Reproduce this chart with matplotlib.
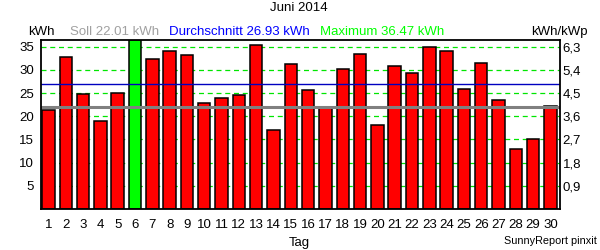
import matplotlib
matplotlib.use("Agg")
import matplotlib.pyplot as plt

plt.rcParams['font.family'] = ['Liberation Sans', 'DejaVu Sans']

days = list(range(1, 31))
kwh = [21.4, 32.8, 24.9, 18.9, 25.1, 36.47, 32.4, 34.1, 33.2, 22.9,
       24.0, 24.6, 35.4, 17.0, 31.3, 25.7, 21.8, 30.2, 33.4, 18.2,
       30.9, 29.4, 34.9, 34.1, 25.9, 31.5, 23.6, 12.9, 15.2, 22.3]
soll = 22.01
avg = 26.93
maximum = 36.47
grid_vals = [5, 10, 15, 20, 25, 30, 35]
right_labels = ['0,9', '1,8', '2,7', '3,6', '4,5', '5,4', '6,3']
title = 'Juni 2014'

fs = 9.5
fig = plt.figure(figsize=(6, 2.5), dpi=100)
ax = fig.add_axes([41/600, 1 - 209/250, (560-41)/600, (209-40)/250])

colors = ['#00ff00' if v == maximum else '#ff0000' for v in kwh]
ax.bar(days, kwh, width=0.72, color=colors, edgecolor='black', linewidth=1.1, zorder=2)

for g in grid_vals:
    ax.axhline(g, color='#00e600', lw=0.9, dashes=(4, 3), zorder=1)
ax.axhline(avg, color='#0000c0', lw=1.0, zorder=3)
ax.axhline(soll, color='#808080', lw=2.2, zorder=3)

ax.set_xlim(0.57, 30.55)
ax.set_ylim(0, maximum)
ax.set_xticks(days)
ax.set_xticklabels([str(d) for d in days], fontsize=fs)
ax.set_yticks(grid_vals)
ax.set_yticklabels([str(g) for g in grid_vals], fontsize=fs)
ax.tick_params(axis='x', length=0, pad=7)
ax.tick_params(axis='y', length=0, pad=5)
for s in ax.spines.values():
    s.set_linewidth(1.3)
    s.set_color('black')
    s.set_zorder(4)

ax2 = ax.twinx()
ax2.set_ylim(ax.get_ylim())
ax2.set_yticks(grid_vals)
ax2.set_yticklabels(right_labels, fontsize=fs)
ax2.tick_params(axis='y', length=0, pad=2)
for s in ax2.spines.values():
    s.set_visible(False)

def ftext(x, y, s, size=fs, **kw):
    fig.text(x/600, 1 - y/250, s, fontsize=size, va='center', **kw)

ftext(299, 8, title, ha='center', color='black')
ftext(28, 32, 'kWh', ha='left', color='black')
ftext(70, 32, 'Soll 22.01 kWh', ha='left', color='#a0a0a0')
ftext(169, 32, 'Durchschnitt 26.93 kWh', ha='left', color='#0000ff')
ftext(320, 32, 'Maximum 36.47 kWh', ha='left', color='#00ff00')
ftext(588, 32, 'kWh/kWp', ha='right', color='black')
ftext(299, 243, 'Tag', ha='center', color='black')
ftext(597, 241, 'SunnyReport pinxit', size=7.8, ha='right', color='black')

fig.savefig('out.png', dpi=100, facecolor='white')
